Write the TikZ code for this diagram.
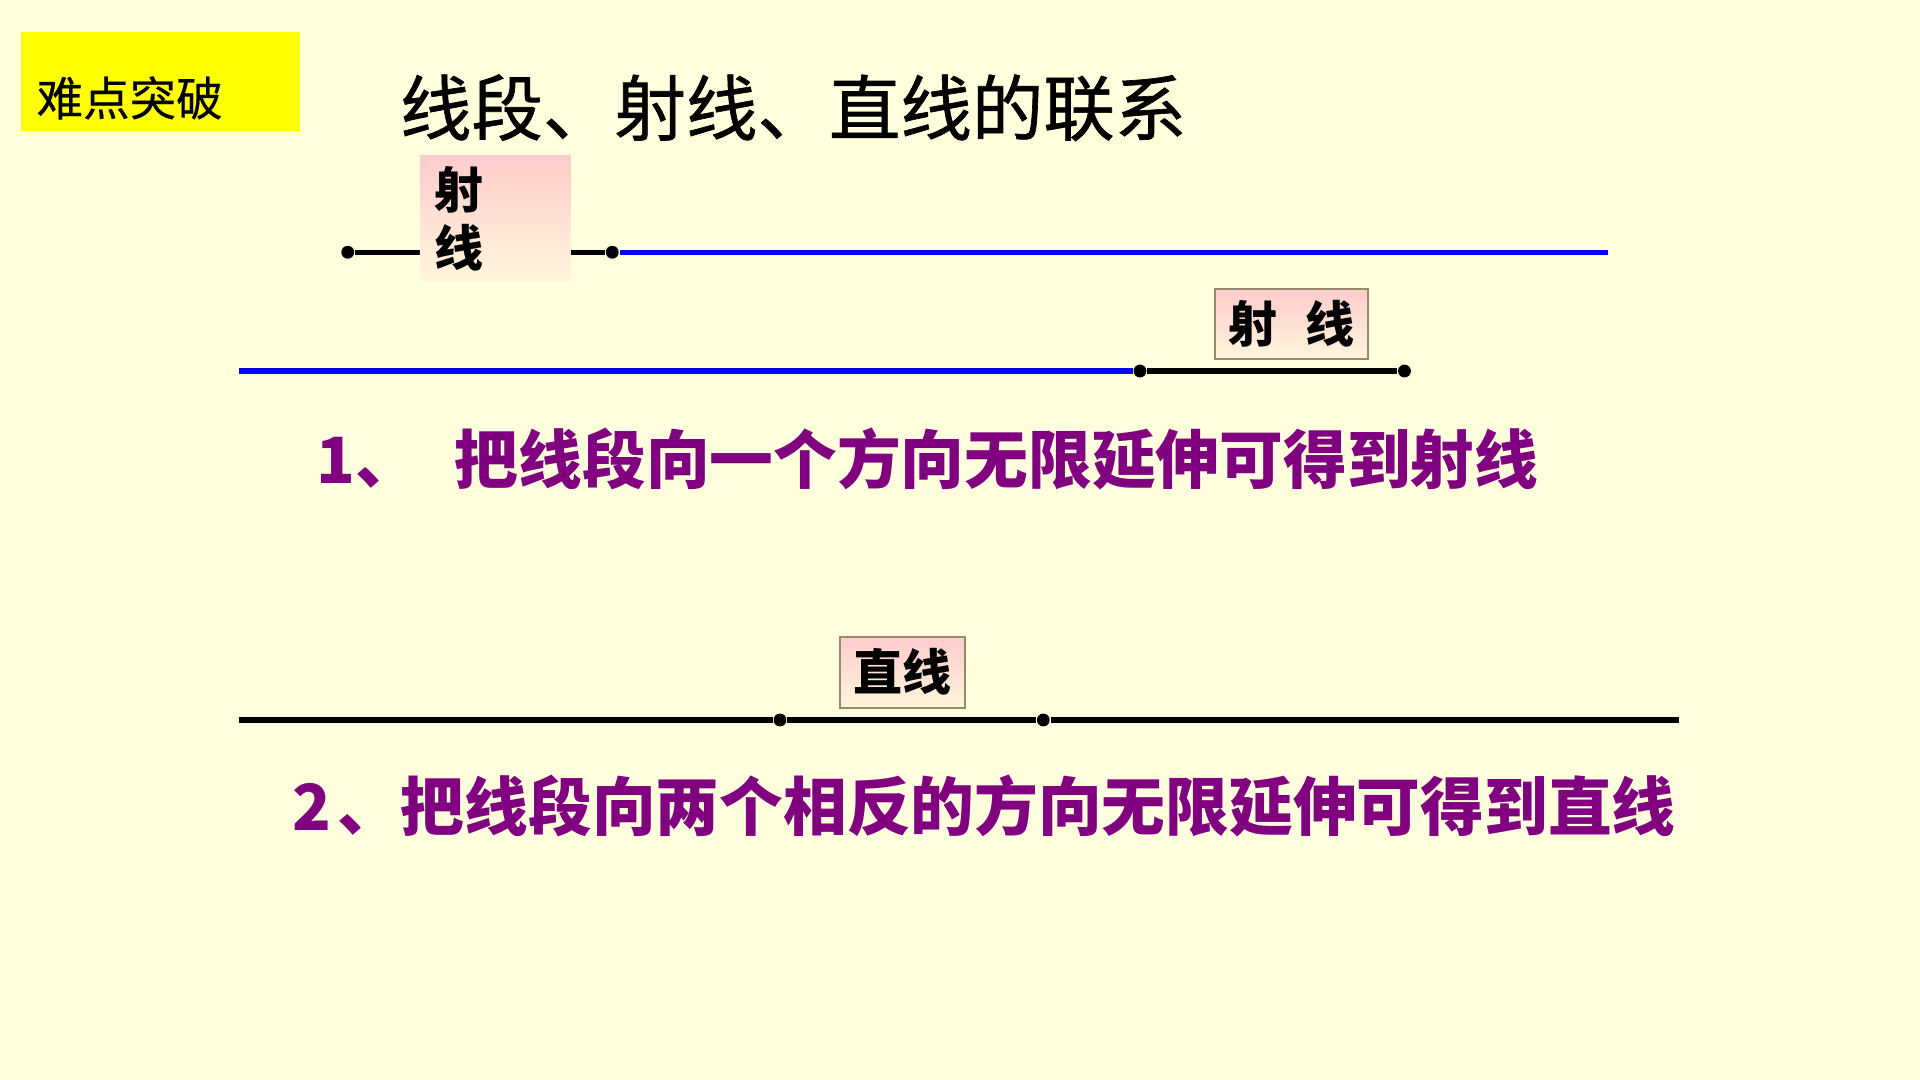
\documentclass[tikz,border=0pt]{standalone}
\usepackage{fontspec}
\setmainfont{Noto Sans CJK SC}
\newfontfamily\heavycjk{Noto Sans CJK SC}[FakeBold=0.9]
\newfontfamily\semicjk{Noto Sans CJK SC}[FakeBold=0.4]
\usepackage{tikz}

\definecolor{bgcream}{RGB}{255,255,221}
\definecolor{tagyellow}{RGB}{255,255,0}
\definecolor{boxpink}{RGB}{255,204,204}
\definecolor{boxcream}{RGB}{255,246,220}
\definecolor{boxedge}{RGB}{150,140,105}
\definecolor{sayviolet}{RGB}{128,0,128}
\definecolor{rayblue}{RGB}{0,0,255}

\begin{document}
\begin{tikzpicture}[x=0.01cm,y=-0.01cm]
		\tikzstyle{every node}=[inner sep=0pt]
		\tikzstyle{endpt}=[circle,fill=black,minimum size=0.105cm]
		\tikzstyle{seg}=[line width=0.044cm,black]
		\tikzstyle{ray}=[line width=0.044cm,rayblue]
		\tikzstyle{rbox}=[rectangle,top color=boxpink,bottom color=boxcream,font=\bfseries\fontsize{11.4}{13.4}\selectfont]
		\tikzstyle{say}=[anchor=west,text=sayviolet,font=\bfseries\fontsize{14.8}{16}\selectfont]

		\fill[bgcream] (0,0) rectangle (1568,882);
		\useasboundingbox (0,0) rectangle (1568,882);

		\node[fill=tagyellow,minimum width=2.28cm,minimum height=0.81cm,text width=2.02cm,align=left,
		      inner xsep=0.13cm,text height=0.56cm,text depth=0cm,font=\semicjk\fontsize{10.8}{12}\selectfont] (tag) at (131,66.5) {难点突破};
		\node[anchor=west,font=\heavycjk\fontsize{16.6}{18}\selectfont] (title) at (326,88) {线段、射线、直线的联系};

		% segment stretched one way
		\node[endpt] (a1) at (284,206) {};
		\node[endpt] (a2) at (500,206) {};
		\coordinate (a3) at (1313,206);
		\draw[seg] (a1) -- (a2);
		\draw[ray] (a2) -- (a3);
		\node[rbox,minimum width=1.23cm,minimum height=1.03cm,text width=0.99cm,align=left] (lab1) at (404.5,178.5) {射\\线};

		\coordinate (b0) at (195,303);
		\node[endpt] (b1) at (931,303) {};
		\node[endpt] (b2) at (1147,303) {};
		\draw[ray] (b0) -- (b1);
		\draw[seg] (b1) -- (b2);
		\node[rbox,draw=boxedge,line width=0.4pt,minimum width=1.25cm,minimum height=0.57cm] (lab2) at (1054.5,264.5) {射\hspace{0.23cm}线};

		\node[say] (say1) at (258,375) {1、\hspace{0.29cm}把线段向一个方向无限延伸可得到射线};

		% segment stretched both ways
		\coordinate (c0) at (195,588);
		\node[endpt] (c1) at (637,588) {};
		\node[endpt] (c2) at (852,588) {};
		\coordinate (c3) at (1371,588);
		\draw[seg] (c0) -- (c1);
		\draw[seg] (c1) -- (c2);
		\draw[seg] (c2) -- (c3);
		\node[rbox,draw=boxedge,line width=0.4pt,minimum width=1.02cm,minimum height=0.58cm] (lab3) at (737,549) {直线};

		\node[say] (say2) at (238,658) {2\hspace{0.05cm}、把线段向两个相反的方向无限延伸可得到直线};
\end{tikzpicture}
\end{document}
